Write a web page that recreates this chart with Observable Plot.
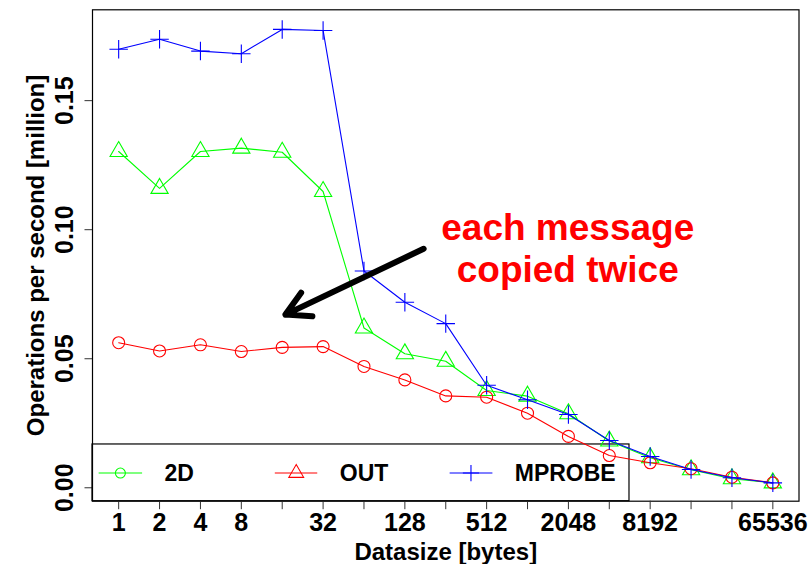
<!DOCTYPE html>
<html>
<head>
<meta charset="utf-8">
<script src="https://cdn.jsdelivr.net/npm/d3@7"></script>
<script src="https://cdn.jsdelivr.net/npm/@observablehq/plot@0.6"></script>
<style>
  html, body { margin: 0; padding: 0; background: #fff; }
  #chart { width: 811px; height: 564px; }
</style>
</head>
<body>
<div id="chart"></div>
<script>
// ---- data ----
const sizes = [1, 2, 4, 8, 16, 32, 64, 128, 256, 512, 1024, 2048, 4096, 8192, 16384, 32768, 65536];
const xTickLabels = [1, 2, 4, 8, 32, 128, 512, 2048, 8192, 65536];
const yTicks = [0, 0.05, 0.10, 0.15];

// green series (legend "2D")
const twoD = [0.1303, 0.1160, 0.1303, 0.1316, 0.1300, 0.1148, 0.0619, 0.0519, 0.0490, 0.0377, 0.0355, 0.0287, 0.0181, 0.0116, 0.0070, 0.0035, 0.0019];
// red series (legend "OUT")
const out = [0.0562, 0.0530, 0.0554, 0.0528, 0.0544, 0.0547, 0.0470, 0.0418, 0.0356, 0.0351, 0.0289, 0.0199, 0.0125, 0.0097, 0.0074, 0.0041, 0.0019];
// blue series (legend "MPROBE")
const mprobe = [0.1699, 0.1738, 0.1692, 0.1682, 0.1776, 0.1772, 0.0840, 0.0719, 0.0636, 0.0397, 0.0341, 0.0284, 0.0183, 0.0121, 0.0071, 0.0039, 0.0019];

const seriesNames = ["2D", "OUT", "MPROBE"];
const seriesColors = ["#00ff00", "#ff0000", "#0000ff"];
const plotSymbols = ["triangle", "circle", "plus"];
const legendSymbols = ["circle", "triangle", "plus"];

// annotation (data coordinates)
const annotationText = ["each message\ncopied twice"];
const annotationPos = [{x: 2025, y: 0.0797}];
const arrowPos = [{x1: 176, y1: 0.0926, x2: 16.9, y2: 0.0671}];

// legend layout in log2 units / data units
const legendRowY = 0.0057;
const legendBox = {x2exp: 12.494, y2: 0.01678};
const legendLineExp = [[-0.49, 0.573], [3.819, 4.857], [8.095, 9.141]];
const legendSymbolExp = [0.042, 4.343, 8.617];
const legendTextExp = [1.12, 5.41, 9.687];

// ---- build ----
const allSeries = [twoD, out, mprobe];
const rows = [];
allSeries.forEach((vals, s) => vals.forEach((v, i) => rows.push({series: seriesNames[s], size: sizes[i], value: v, s})));

const xDomain = [2 ** -0.64, 2 ** 16.64];
const yDomain = [-0.0052, 0.1852];
const font = "Liberation Sans, Arial, Helvetica, sans-serif";

const legendLines = legendLineExp.map((e, s) => ({x1: 2 ** e[0], x2: 2 ** e[1], y: legendRowY, s}));
const legendDots = legendSymbolExp.map((e, s) => ({x: 2 ** e, y: legendRowY, s}));
const legendTexts = legendTextExp.map((e, s) => ({x: 2 ** e, y: legendRowY, s, label: seriesNames[s]}));

const marks = [
  Plot.frame({stroke: "#000", strokeWidth: 1.2}),
  Plot.axisX({
    ticks: sizes, tickSize: 8.5, tickPadding: 3.8, label: null,
    tickFormat: d => xTickLabels.includes(d) ? String(d) : "",
    fontSize: 25, fontWeight: "bold", fontFamily: font, stroke: "#333"
  }),
  Plot.axisY({
    ticks: yTicks, tickSize: 7.5, tickPadding: 12, label: null,
    tickRotate: -90, textAnchor: "middle", lineAnchor: "bottom",
    tickFormat: d => d.toFixed(2),
    fontSize: 25, fontWeight: "bold", fontFamily: font, stroke: "#333"
  }),
  Plot.text(["Operations per second [million]"], {
    frameAnchor: "left", rotate: -90, dx: -49, lineAnchor: "bottom", textAnchor: "middle",
    fontSize: 24, fontWeight: "bold", fontFamily: font, fill: "#000"
  }),
  Plot.text(["Datasize [bytes]"], {
    frameAnchor: "bottom", dy: 58.8, lineAnchor: "bottom", textAnchor: "middle",
    fontSize: 24, fontWeight: "bold", fontFamily: font, fill: "#000"
  }),
  // legend box
  Plot.rect([legendBox], {
    x1: () => xDomain[0], x2: d => 2 ** d.x2exp, y1: () => yDomain[0], y2: d => d.y2,
    fill: "none", stroke: "#000", strokeWidth: 1.2
  })
];

// series lines and points
[0, 1, 2].forEach(s => {
  const data = rows.filter(r => r.s === s);
  marks.push(Plot.line(data, {x: "size", y: "value", stroke: seriesColors[s], strokeWidth: 1.1}));
  marks.push(Plot.dot(data, {
    x: "size", y: "value", symbol: () => plotSymbols[s],
    r: plotSymbols[s] === "circle" ? 6 : plotSymbols[s] === "triangle" ? 6.4 : 6,
    stroke: seriesColors[s], fill: "none", strokeWidth: 1.1
  }));
});

// legend entries
[0, 1, 2].forEach(s => {
  marks.push(Plot.link([legendLines[s]], {x1: "x1", x2: "x2", y1: "y", y2: "y", stroke: seriesColors[s], strokeWidth: 1.1}));
  marks.push(Plot.dot([legendDots[s]], {
    x: "x", y: "y", symbol: () => legendSymbols[s],
    r: legendSymbols[s] === "circle" ? 5 : legendSymbols[s] === "triangle" ? 5.5 : 5.3,
    stroke: seriesColors[s], fill: "none", strokeWidth: 1.1
  }));
  marks.push(Plot.text([legendTexts[s]], {
    x: "x", y: "y", text: "label", textAnchor: "start", lineAnchor: "middle", dy: 1,
    fontSize: 23, fontWeight: "bold", fontFamily: font, fill: "#000"
  }));
});

// annotation
marks.push(Plot.arrow(arrowPos, {x1: "x1", y1: "y1", x2: "x2", y2: "y2", stroke: "#000", strokeWidth: 6, headLength: 6.75, headAngle: 58}));
marks.push(Plot.text(annotationPos, {
  x: "x", y: "y", text: () => annotationText[0], lineAnchor: "bottom", lineHeight: 1.127,
  textAnchor: "middle", fontSize: 37, fontWeight: "bold", fontFamily: font, fill: "#ff0000"
}));

const chart = Plot.plot({
  width: 811,
  height: 564,
  marginLeft: 92,
  marginRight: 12.5,
  marginTop: 9.3,
  marginBottom: 63.3,
  style: {background: "#fff", fontFamily: font},
  x: {type: "log", base: 2, domain: xDomain},
  y: {domain: yDomain},
  marks
});
document.getElementById("chart").appendChild(chart);
</script>
</body>
</html>
